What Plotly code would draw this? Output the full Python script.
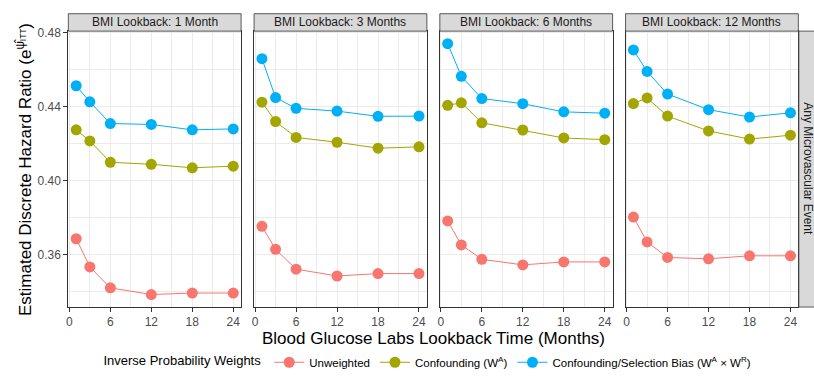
import plotly.graph_objects as go

# Lookback times for the blood glucose labs (months)
months = [1, 3, 6, 12, 18, 24]
x_ticks = [0, 6, 12, 18, 24]
y_ticks = [0.36, 0.40, 0.44, 0.48]

panel_titles = [
    "BMI Lookback: 1 Month",
    "BMI Lookback: 3 Months",
    "BMI Lookback: 6 Months",
    "BMI Lookback: 12 Months",
]
outcome_label = "Any Microvascular Event"

# Estimated hazard ratios, one list per BMI lookback panel
unweighted = [
    [0.3687, 0.3535, 0.3422, 0.3386, 0.3394, 0.3394],
    [0.3754, 0.3630, 0.3523, 0.3486, 0.3499, 0.3499],
    [0.3783, 0.3654, 0.3576, 0.3546, 0.3562, 0.3562],
    [0.3804, 0.3670, 0.3586, 0.3579, 0.3595, 0.3595],
]
confounding = [
    [0.4275, 0.4215, 0.4100, 0.4089, 0.4070, 0.4079],
    [0.4424, 0.4320, 0.4234, 0.4208, 0.4176, 0.4183],
    [0.4407, 0.4421, 0.4313, 0.4274, 0.4231, 0.4222],
    [0.4417, 0.4447, 0.4349, 0.4269, 0.4225, 0.4246],
]
conf_selection = [
    [0.4513, 0.4426, 0.4309, 0.4304, 0.4275, 0.4280],
    [0.4659, 0.4449, 0.4391, 0.4376, 0.4348, 0.4349],
    [0.4740, 0.4564, 0.4444, 0.4416, 0.4372, 0.4365],
    [0.4706, 0.4590, 0.4468, 0.4384, 0.4344, 0.4367],
]

series = [
    ("Unweighted", unweighted, "#F8766D"),
    ("Confounding (W<sup>A</sup>)", confounding, "#A3A500"),
    ("Confounding/Selection Bias (W<sup>A</sup> × W<sup>R</sup>)", conf_selection, "#00B0F6"),
]

W, H = 814, 377
FONT = "Liberation Sans, Arial, sans-serif"

# panel geometry in pixels
panel_left = 66.5
panel_w = 173.2
panel_gap = 13.0
panel_top = 27.0
panel_bottom = 312.0
strip_top = 9.0
strip_right_w = 18.0


def px_x(v):
    return v / W


def px_y(v):
    return 1 - v / H


all_vals = [v for _, data, _ in series for row in data for v in row]
ymin, ymax = min(all_vals), max(all_vals)
ypad = (ymax - ymin) * 0.05
y_range = [ymin - ypad, ymax + ypad]
xpad = (max(months) - min(months)) * 0.05
x_range = [min(months) - xpad, max(months) + xpad]

fig = go.Figure()

for p in range(len(panel_titles)):
    xa = "x" if p == 0 else f"x{p + 1}"
    ya = "y" if p == 0 else f"y{p + 1}"
    for name, data, color in series:
        fig.add_trace(go.Scatter(
            x=months, y=data[p], mode="lines+markers", name=name,
            legendgroup=name, showlegend=(p == 0),
            line=dict(color=color, width=1),
            marker=dict(color=color, size=11),
            xaxis=xa, yaxis=ya,
        ))

layout_axes = {}
shapes = []
annotations = []
for p, title in enumerate(panel_titles):
    x0 = panel_left + p * (panel_w + panel_gap)
    x1 = x0 + panel_w
    key_x = "xaxis" if p == 0 else f"xaxis{p + 1}"
    key_y = "yaxis" if p == 0 else f"yaxis{p + 1}"
    ya_name = "y" if p == 0 else f"y{p + 1}"
    xa_name = "x" if p == 0 else f"x{p + 1}"
    layout_axes[key_x] = dict(
        domain=[px_x(x0), px_x(x1)], anchor=ya_name, range=x_range,
        tickvals=x_ticks, showgrid=True, gridcolor="#EBEBEB", gridwidth=1,
        minor=dict(tickvals=[3, 9, 15, 21], showgrid=True, gridcolor="#EBEBEB", gridwidth=0.5),
        showline=True, mirror=True, linecolor="#333333", linewidth=1,
        ticks="outside", ticklen=4, tickcolor="#333333", tickwidth=1,
        tickfont=dict(family=FONT, size=12, color="#4D4D4D"),
        zeroline=False, fixedrange=True,
    )
    layout_axes[key_y] = dict(
        domain=[px_y(panel_bottom), px_y(panel_top)], anchor=xa_name, range=y_range,
        tickvals=y_ticks, ticktext=[f"{v:.2f}" for v in y_ticks],
        showticklabels=(p == 0), ticks="outside" if p == 0 else "",
        ticklen=4, tickcolor="#333333", tickwidth=1,
        showgrid=True, gridcolor="#EBEBEB", gridwidth=1,
        minor=dict(tickvals=[0.34, 0.38, 0.42, 0.46], showgrid=True, gridcolor="#EBEBEB", gridwidth=0.5),
        showline=True, mirror=True, linecolor="#333333", linewidth=1,
        tickfont=dict(family=FONT, size=12, color="#4D4D4D"),
        zeroline=False, fixedrange=True,
    )
    # facet strip on top
    shapes.append(dict(
        type="rect", xref="paper", yref="paper",
        x0=px_x(x0), x1=px_x(x1), y0=px_y(panel_top), y1=px_y(strip_top),
        fillcolor="#D9D9D9", line=dict(color="#333333", width=0.8), layer="above",
    ))
    annotations.append(dict(
        text=title, xref="paper", yref="paper",
        x=px_x((x0 + x1) / 2), y=px_y((panel_top + strip_top) / 2),
        xanchor="center", yanchor="middle", showarrow=False,
        font=dict(family=FONT, size=12, color="#1A1A1A"),
    ))

# facet strip on the right
last_right = panel_left + 3 * (panel_w + panel_gap) + panel_w
shapes.append(dict(
    type="rect", xref="paper", yref="paper",
    x0=px_x(last_right + 0.5), x1=px_x(last_right + 0.5 + strip_right_w),
    y0=px_y(panel_bottom), y1=px_y(panel_top),
    fillcolor="#D9D9D9", line=dict(color="#333333", width=0.8), layer="above",
))
annotations.append(dict(
    text=outcome_label, xref="paper", yref="paper",
    x=px_x(last_right + 0.5 + strip_right_w / 2), y=px_y((panel_top + panel_bottom) / 2),
    xanchor="center", yanchor="middle", showarrow=False, textangle=90,
    font=dict(family=FONT, size=12, color="#1A1A1A"),
))

# axis titles
annotations.append(dict(
    text="Blood Glucose Labs Lookback Time (Months)", xref="paper", yref="paper",
    x=px_x((panel_left + last_right) / 2), y=px_y(344),
    xanchor="center", yanchor="middle", showarrow=False,
    font=dict(family=FONT, size=17, color="#000000"),
))
annotations.append(dict(
    text="Estimated Discrete Hazard Ratio (e<sup>ψ̂<sub>ITT</sub></sup>)",
    xref="paper", yref="paper",
    x=px_x(22), y=px_y((panel_top + panel_bottom) / 2),
    xanchor="center", yanchor="middle", showarrow=False, textangle=-90,
    font=dict(family=FONT, size=17, color="#000000"),
))

fig.update_layout(
    width=W, height=H, autosize=False,
    margin=dict(l=0, r=0, t=0, b=0),
    paper_bgcolor="white", plot_bgcolor="white",
    font=dict(family=FONT, color="#000000"),
    shapes=shapes, annotations=annotations,
    legend=dict(
        orientation="h", x=px_x(428), xanchor="center",
        y=px_y(369), yanchor="middle",
        title=dict(text="Inverse Probability Weights", side="left",
                   font=dict(family=FONT, size=13, color="#000000")),
        font=dict(family=FONT, size=11.5, color="#000000"),
        itemwidth=30, tracegroupgap=0, bgcolor="rgba(0,0,0,0)",
    ),
    **layout_axes,
)

fig.write_html("out.html")
